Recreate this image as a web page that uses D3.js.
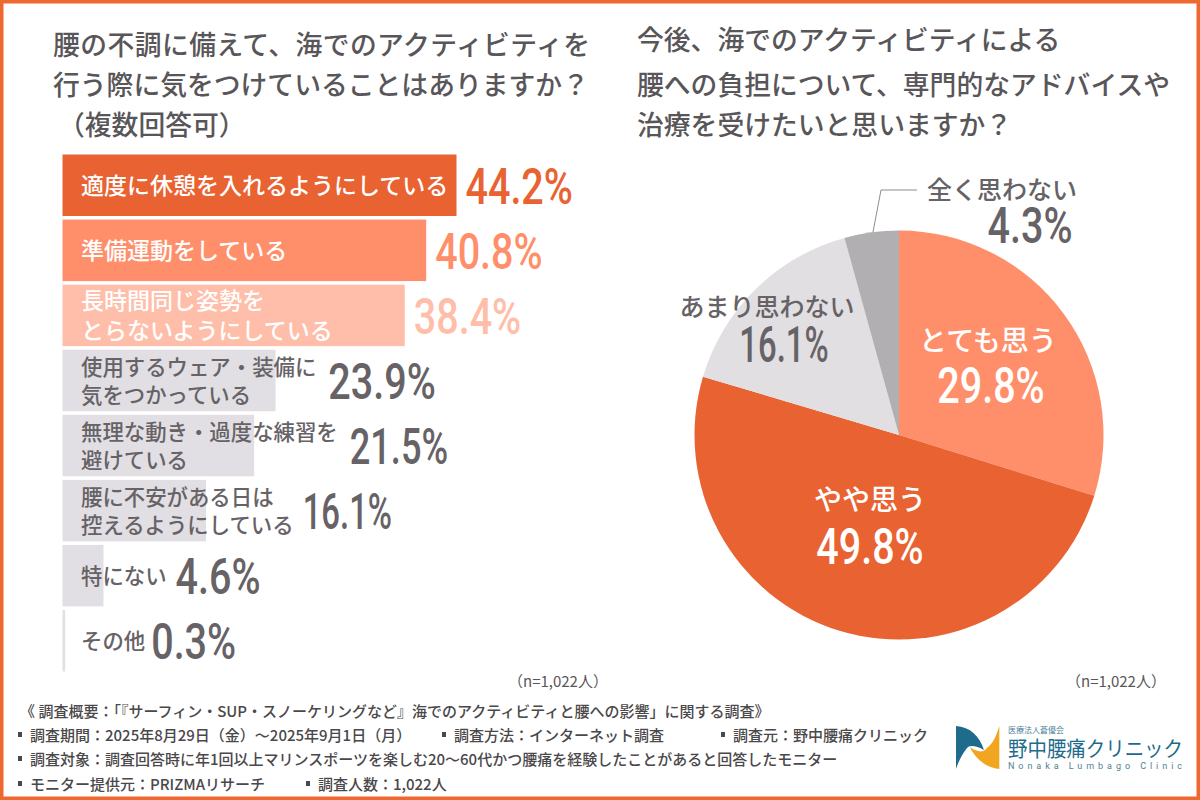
<!DOCTYPE html>
<html lang="ja"><head><meta charset="utf-8">
<style>html,body{margin:0;padding:0;background:#fff}svg{display:block}</style>
<script src="https://cdn.jsdelivr.net/npm/d3@7"></script></head><body>
<script>
const JP='"Noto Sans CJK JP","Noto Sans",sans-serif';
const barTitle=["腰の不調に備えて、海でのアクティビティを","行う際に気をつけていることはありますか？","（複数回答可）"];
const pieTitle=["今後、海でのアクティビティによる","腰への負担について、専門的なアドバイスや","治療を受けたいと思いますか？"];
const barLabels=[["適度に休憩を入れるようにしている"],["準備運動をしている"],["長時間同じ姿勢を","とらないようにしている"],["使用するウェア・装備に","気をつかっている"],["無理な動き・過度な練習を","避けている"],["腰に不安がある日は","控えるようにしている"],["特にない"],["その他"]];
const barValues=[44.2,40.8,38.4,23.9,21.5,16.1,4.6,0.3];
const barColors=["#E96232","#FF8F6B","#FFBEA9","#E1DFE3","#E1DFE3","#E1DFE3","#E1DFE3","#E1DFE3"];
const barValueColors=["#E96232","#FF8F6B","#FFBEA9","#666266","#666266","#666266","#666266","#666266"];
const barTextColors=["#fff","#fff","#fff","#666266","#666266","#666266","#666266","#666266"];
const pieLabels=["とても思う","やや思う","あまり思わない","全く思わない"];
const pieValues=[29.8,49.8,16.1,4.3];
const pieColors=["#FF8F6B","#E96232","#E1DFE1","#B1AFB1"];
const footer=["《 調査概要：「『サーフィン・SUP・スノーケリングなど』海でのアクティビティと腰への影響」に関する調査》"];
const footerItems=[["調査期間：2025年8月29日（金）～2025年9月1日（月）","調査方法：インターネット調査","調査元：野中腰痛クリニック"],["調査対象：調査回答時に年1回以上マリンスポーツを楽しむ20～60代かつ腰痛を経験したことがあると回答したモニター"],["モニター提供元：PRIZMAリサーチ","調査人数：1,022人"]];
const sampleNote="（n=1,022人）";

const svg=d3.select("body").append("svg").attr("width",1200).attr("height",800).attr("viewBox","0 0 1200 800");
svg.append("rect").attr("x",1.5).attr("y",1.5).attr("width",1197).attr("height",797).attr("fill","#fff").attr("stroke","#F0682F").attr("stroke-width",4);

// percent labels: Roboto squeezed to the reference's condensed look, "1" narrower as in DIN-like faces
function pct(sel,px,py,str,size,color,anchor){
  const t=sel.append("text").attr("x",px).attr("y",py).attr("fill",color).attr("font-family","Roboto,sans-serif").attr("font-weight",500)
   .attr("font-size",size).attr("text-anchor",anchor||"start").text(str);
  const w=t.node().getComputedTextLength()*0.79-9*(str.split("1").length-1);
  return t.attr("textLength",w).attr("lengthAdjust","spacingAndGlyphs");
}
// titles
const titleWeight=500;
svg.selectAll(".t1").data(barTitle).join("text").attr("x",(d,i)=>i==2?58:53).attr("y",(d,i)=>[55,94.5,135][i])
  .attr("font-family",JP).attr("font-weight",titleWeight).attr("font-size",26.8).attr("fill","#595659")
  .attr("textLength",(d,i)=>i==0?537:null).text(d=>d);
svg.selectAll(".t2").data(pieTitle).join("text").attr("x",637).attr("y",(d,i)=>[50,94.5,135][i])
  .attr("font-family",JP).attr("font-weight",titleWeight).attr("font-size",26.8).attr("fill","#595659").text(d=>d);

// bars
const x=d3.scaleLinear().domain([0,44.2]).range([62.5,456.5]);
const y=d3.scaleBand().domain(d3.range(barValues.length)).range([154.5,671.5]).paddingInner(0.055).paddingOuter(0);
const g=svg.append("g");
barValues.forEach((v,i)=>{
  const bh=y.bandwidth(), top=y(i), cy=top+bh/2;
  g.append("rect").attr("x",x(0)).attr("y",top).attr("width",x(v)-x(0)).attr("height",bh).attr("fill",barColors[i]);
  const lines=barLabels[i]; let end=0;
  const fs=i<3?23:21.4, lh=i<3?30.5:28;
  lines.forEach((l,j)=>{
    const n=lines.length;
    const t=g.append("text").attr("x",81).attr("y",cy+8.5+(j-(n-1)/2)*lh).attr("font-family",JP).attr("font-weight",500)
      .attr("font-size",fs).attr("fill",barTextColors[i]).text(l);
    end=Math.max(end,81+t.node().getComputedTextLength());
  });
  const gap=lines.length>1&&i>2&&i<5?12:(i==7?6:9);
  const px=Math.max(x(v),end)+gap;
  pct(g,px,cy+18.5,v.toFixed(1)+"%",50,barValueColors[i]);
});
[508,1066].forEach(nx=>svg.append("text").attr("x",nx).attr("y",687).attr("font-family",JP).attr("font-size",15).attr("fill","#595659").text(sampleNote));

// pie
const pg=svg.append("g").attr("transform","translate(899,435)");
const arcs=d3.pie().sort(null)(pieValues);
const arc=d3.arc().innerRadius(0).outerRadius(204.5);
pg.selectAll("path").data(arcs).join("path").attr("d",arc).attr("fill",(d,i)=>pieColors[i]);
// pie labels
const pieLabelPos=[[988,351,991,403,"#fff",28],[870,510,870,564,"#fff",28],[767,316,784,362,"#666266",25],[1002,199,1030,243,"#666266",25]];
pieLabels.forEach((l,i)=>{
  const p=pieLabelPos[i];
  svg.append("text").attr("x",p[0]).attr("y",p[1]).attr("text-anchor","middle").attr("font-family",JP).attr("font-weight",500).attr("font-size",p[5]).attr("fill",p[4]).text(l);
  pct(svg,p[2],p[3],pieValues[i].toFixed(1)+"%",50,p[4],"middle");
});
svg.append("path").attr("d","M873 232L881 190H917").attr("fill","none").attr("stroke","#8f8d8f").attr("stroke-width",1);

// footer
const FC="#4a484a";
svg.append("text").attr("x",20).attr("y",717).attr("font-family",JP).attr("font-weight",500).attr("font-size",15).attr("fill",FC).text(footer[0]);
const itemX=[[18,442,721],[18],[18,306]], itemY=[741,765,790];
footerItems.forEach((row,r)=>row.forEach((s,c)=>{
  const x0=itemX[r][c];
  svg.append("rect").attr("x",x0).attr("y",itemY[r]-9).attr("width",4).attr("height",5).attr("fill",FC);
  svg.append("text").attr("x",x0+12).attr("y",itemY[r]).attr("font-family",JP).attr("font-weight",500).attr("font-size",15).attr("fill",FC).text(s);
}));
// logo
const lg=svg.append("g");
lg.append("path").attr("transform","translate(940,715) scale(.3333)").attr("d","M48 33C90 35 120 65 132 105C115 95 95 90 85 95C70 110 55 140 48 162Z").attr("fill","#1E6B8C");
lg.append("path").attr("transform","translate(940,715) scale(.3333)").attr("d","M178 33V162C140 160 105 130 90 97C110 110 130 115 140 100C160 85 170 60 178 33Z").attr("fill","#F2A51E");
lg.append("text").attr("x",1008).attr("y",733).attr("font-family",JP).attr("font-size",8).attr("fill","#4d7f95").text("医療法人蒼優会");
lg.append("text").attr("x",1008).attr("y",756).attr("font-family",JP).attr("font-size",21).attr("fill","#1E6B8C").attr("textLength",175).attr("lengthAdjust","spacingAndGlyphs").text("野中腰痛クリニック");
lg.append("text").attr("x",1008).attr("y",768.5).attr("font-family","Roboto,sans-serif").attr("font-size",9).attr("fill","#4d7f95").attr("textLength",174).text("Nonaka Lumbago Clinic");
</script></body></html>
